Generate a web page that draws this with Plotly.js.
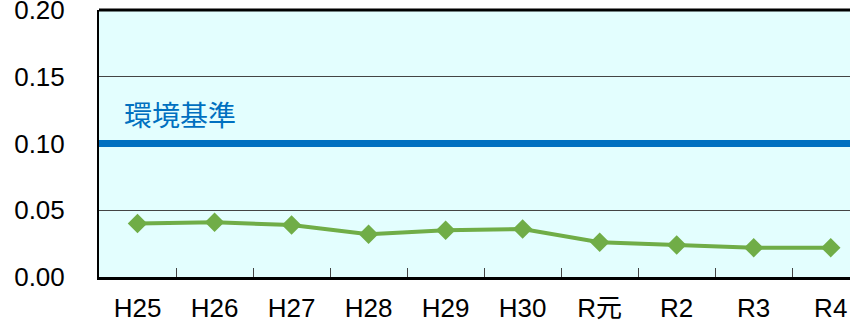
<!DOCTYPE html>
<html><head><meta charset="utf-8">
<script src="https://cdn.plot.ly/plotly-3.0.1.min.js"></script>
<style>html,body{margin:0;padding:0;overflow:hidden;background:#fff}</style>
</head><body><div id="chart" style="width:850px;height:320px"></div>
<script>
const years = ["H25","H26","H27","H28","H29","H30","R元","R2","R3","R4"];
const values = [0.040,0.041,0.039,0.032,0.035,0.036,0.026,0.024,0.022,0.022];
const standardValue = 0.10;
const standardLabel = "環境基準";
const yTicks = [0,0.05,0.10,0.15,0.20];
const yTickText = ["0.00","0.05","0.10","0.15","0.20"];

const labelFont = "Liberation Sans, Arial, Noto Sans CJK JP";
const trace = {
  x: years, y: values, type: "scatter", mode: "lines+markers",
  line: {color: "#70AD47", width: 4},
  marker: {symbol: "diamond", size: 15, color: "#70AD47"},
  hoverinfo: "skip", showlegend: false, cliponaxis: false
};
const layout = {
  width: 850, height: 320,
  margin: {l: 99, r: 0, t: 10, b: 43},
  paper_bgcolor: "#ffffff", plot_bgcolor: "#E3FEFE",
  font: {family: labelFont, size: 26, color: "#000"},
  xaxis: {
    type: "category", range: [-0.5, 9.25],
    showline: true, linecolor: "#000", linewidth: 3,
    ticks: "inside", ticklen: 9, tickwidth: 1, tickcolor: "#444",
    tickson: "boundaries", showgrid: false, zeroline: false,
    ticklabelstandoff: 6, ticklabeloverflow: "allow",
    tickfont: {family: labelFont, size: 26}
  },
  yaxis: {
    range: [0, 0.2], tickvals: yTicks, ticktext: yTickText,
    showline: true, linecolor: "#000", linewidth: 2,
    ticks: "", showgrid: true, gridcolor: "#444", gridwidth: 1,
    zeroline: false, ticklabelstandoff: 27, ticklabeloverflow: "allow",
    tickfont: {family: labelFont, size: 26}
  },
  shapes: [
    {type: "line", xref: "paper", yref: "y", x0: 0, x1: 1, y0: standardValue, y1: standardValue,
     line: {color: "#0070C0", width: 7}},
    {type: "line", xref: "paper", yref: "paper", x0: 0, x1: 1, y0: 1, y1: 1,
     line: {color: "#000", width: 3}}
  ],
  annotations: [
    {xref: "paper", yref: "y", x: 0.031, y: standardValue, xanchor: "left", yanchor: "bottom",
     yshift: 8, text: standardLabel, showarrow: false,
     font: {family: "Noto Sans CJK JP", size: 28, color: "#0070C0"}}
  ]
};
Plotly.newPlot("chart", [trace], layout, {staticPlot: true, displayModeBar: false});
</script></body></html>
